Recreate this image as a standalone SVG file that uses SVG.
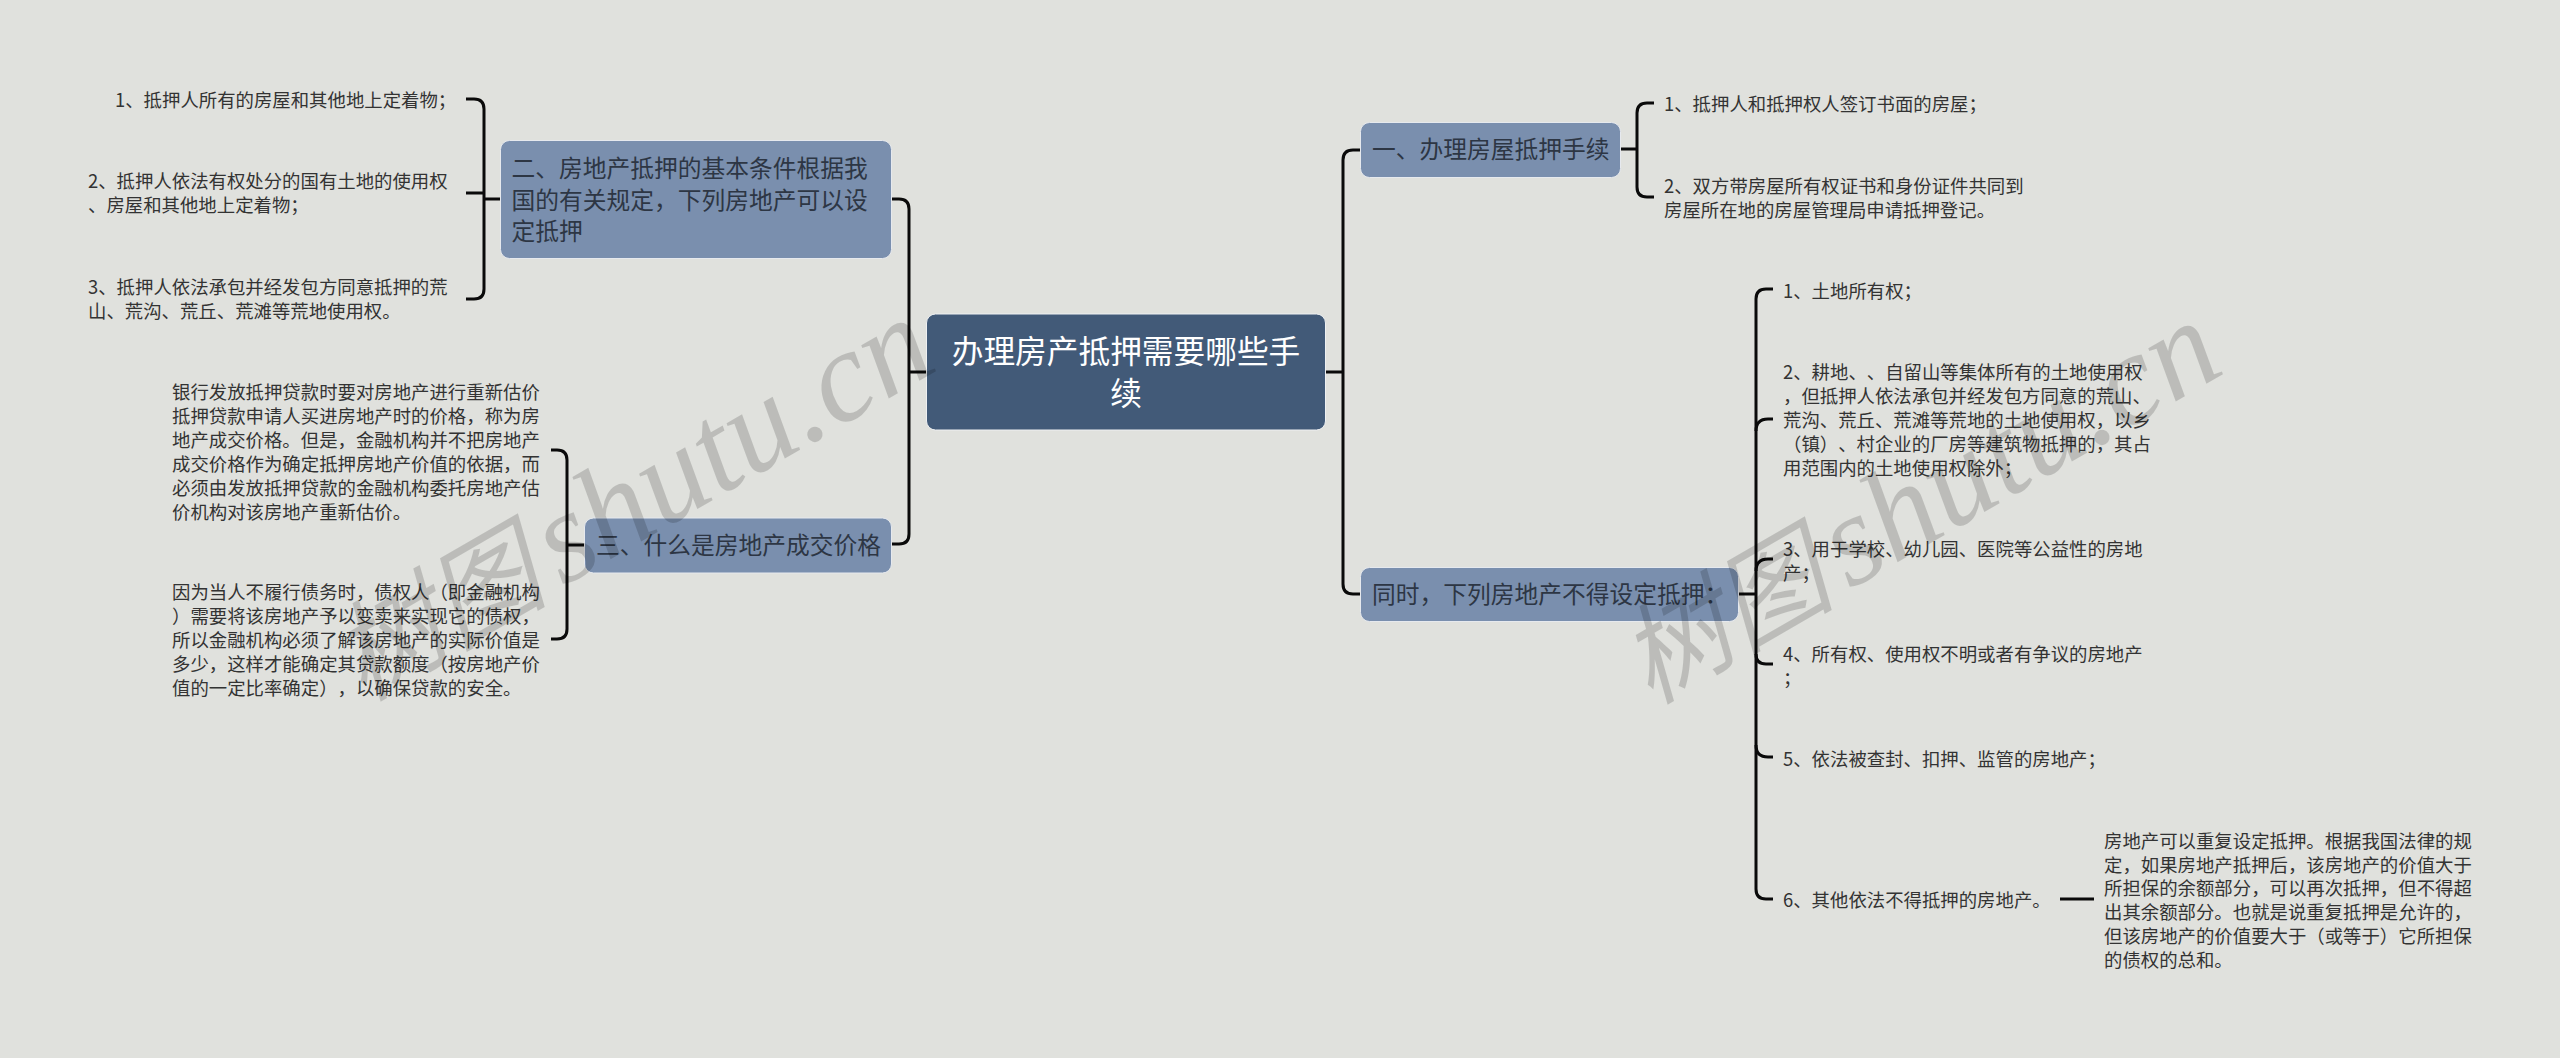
<svg xmlns="http://www.w3.org/2000/svg" width="2560" height="1058" viewBox="0 0 2560 1058">
<style>
text{font-family:"Noto Sans CJK SC","Liberation Sans",sans-serif;text-spacing-trim:space-all;}
.wm{font-family:"Liberation Serif","Noto Sans CJK SC",serif;font-style:italic;font-size:108px;fill:#000;fill-opacity:.16;}
.wm .la{font-size:130px;}
.bg{fill:#e0e1dd;}
.root rect{fill:#425a78;stroke:#eef0f2;stroke-width:1;}
.root text{fill:#fff;font-size:31.7px;text-anchor:middle;}
.n1 rect{fill:#7a8fae;stroke:#e6e9ee;stroke-width:1;}
.n1 text{fill:#2d3644;font-size:23.75px;}
.leaf text{fill:#333;font-size:18.4px;}
.c{fill:none;stroke:#0a0a0a;stroke-width:3;}
</style>
<rect class="bg" width="2560" height="1058"/>
<g id="connectors">
<path class="c" d="M926,372H908M891,199H899Q909,199 909,209V534Q909,544 899,544H891"/>
<path class="c" d="M1325,372H1343M1360,150H1353Q1343,150 1343,160V584Q1343,594 1353,594H1360"/>
<path class="c" d="M1620,149H1637M1654,103H1647Q1637,103 1637,113V187Q1637,197 1647,197H1654"/>
<path class="c" d="M500,199H484M466,99H474Q484,99 484,109V289Q484,299 474,299H466M466,193H484"/>
<path class="c" d="M584,545H567M551,450H557Q567,450 567,460V629Q567,639 557,639H551"/>
<path class="c" d="M1739,594H1756M1773,289H1766Q1756,289 1756,299V889Q1756,899 1766,899H1773"/>
<path class="c" d="M1773,419H1768Q1756,419 1756,431M1773,559H1768Q1756,559 1756,571M1773,664H1766Q1756,664 1756,654M1773,757H1768Q1756,757 1756,745"/>
<path class="c" d="M2060,899H2094"/>
</g>
<g id="root" class="root">
<rect x="926.5" y="314" width="399" height="116" rx="9"/>
<text x="1126" y="363">办理房产抵押需要哪些手</text>
<text x="1126" y="405">续</text>
</g>
<g id="n-1" class="n1">
<rect x="1360.5" y="122.5" width="260" height="55" rx="9"/>
<text x="1372" y="158">一、办理房屋抵押手续</text>
</g>
<g id="n-1-1" class="leaf"><text x="1664" y="110.5">1、抵押人和抵押权人签订书面的房屋；</text></g>
<g id="n-1-2" class="leaf">
<text x="1664" y="192.5">2、双方带房屋所有权证书和身份证件共同到</text>
<text x="1664" y="216.5">房屋所在地的房屋管理局申请抵押登记。</text>
</g>
<g id="n-2" class="n1">
<rect x="1360.5" y="567.5" width="378" height="54" rx="9"/>
<text x="1372" y="603">同时，下列房地产不得设定抵押：</text>
</g>
<g id="n-2-1" class="leaf"><text x="1783" y="297.5">1、土地所有权；</text></g>
<g id="n-2-2" class="leaf">
<text x="1783" y="379">2、耕地、、自留山等集体所有的土地使用权</text>
<text x="1783" y="403">，但抵押人依法承包并经发包方同意的荒山、</text>
<text x="1783" y="427">荒沟、荒丘、荒滩等荒地的土地使用权，以乡</text>
<text x="1783" y="451">（镇）、村企业的厂房等建筑物抵押的，其占</text>
<text x="1783" y="475">用范围内的土地使用权除外；</text>
</g>
<g id="n-2-3" class="leaf">
<text x="1783" y="556">3、用于学校、幼儿园、医院等公益性的房地</text>
<text x="1783" y="580">产；</text>
</g>
<g id="n-2-4" class="leaf">
<text x="1783" y="661">4、所有权、使用权不明或者有争议的房地产</text>
<text x="1783" y="685">；</text>
</g>
<g id="n-2-5" class="leaf"><text x="1783" y="765.5">5、依法被查封、扣押、监管的房地产；</text></g>
<g id="n-2-6" class="leaf"><text x="1783" y="906.5">6、其他依法不得抵押的房地产。</text></g>
<g id="n-2-6-1" class="leaf">
<text x="2104" y="847.5">房地产可以重复设定抵押。根据我国法律的规</text>
<text x="2104" y="871.5">定，如果房地产抵押后，该房地产的价值大于</text>
<text x="2104" y="895">所担保的余额部分，可以再次抵押，但不得超</text>
<text x="2104" y="919">出其余额部分。也就是说重复抵押是允许的，</text>
<text x="2104" y="942.5">但该房地产的价值要大于（或等于）它所担保</text>
<text x="2104" y="966.5">的债权的总和。</text>
</g>
<g id="n-3" class="n1">
<rect x="500.5" y="140.5" width="391" height="118" rx="9"/>
<text x="511.5" y="176.5">二、房地产抵押的基本条件根据我</text>
<text x="511.5" y="208.5">国的有关规定，下列房地产可以设</text>
<text x="511.5" y="240">定抵押</text>
</g>
<g id="n-3-1" class="leaf"><text x="115" y="107">1、抵押人所有的房屋和其他地上定着物；</text></g>
<g id="n-3-2" class="leaf">
<text x="88" y="188">2、抵押人依法有权处分的国有土地的使用权</text>
<text x="88" y="212">、房屋和其他地上定着物；</text>
</g>
<g id="n-3-3" class="leaf">
<text x="88" y="294">3、抵押人依法承包并经发包方同意抵押的荒</text>
<text x="88" y="318">山、荒沟、荒丘、荒滩等荒地使用权。</text>
</g>
<g id="n-4" class="n1">
<rect x="584.5" y="518" width="307" height="55" rx="9"/>
<text x="596" y="554">三、什么是房地产成交价格</text>
</g>
<g id="n-4-1" class="leaf">
<text x="172" y="399">银行发放抵押贷款时要对房地产进行重新估价</text>
<text x="172" y="423">抵押贷款申请人买进房地产时的价格，称为房</text>
<text x="172" y="447">地产成交价格。但是，金融机构并不把房地产</text>
<text x="172" y="471">成交价格作为确定抵押房地产价值的依据，而</text>
<text x="172" y="495">必须由发放抵押贷款的金融机构委托房地产估</text>
<text x="172" y="518.5">价机构对该房地产重新估价。</text>
</g>
<g id="n-4-2" class="leaf">
<text x="172" y="599">因为当人不履行债务时，债权人（即金融机构</text>
<text x="172" y="623">）需要将该房地产予以变卖来实现它的债权，</text>
<text x="172" y="647">所以金融机构必须了解该房地产的实际价值是</text>
<text x="172" y="671">多少，这样才能确定其贷款额度（按房地产价</text>
<text x="172" y="694.5">值的一定比率确定），以确保贷款的安全。</text>
</g>
<g id="watermarks">
<text class="wm" transform="translate(363,702) rotate(-30)">树图<tspan class="la" dx="-18"> shutu.cn</tspan></text>
<text class="wm" transform="translate(1650,705) rotate(-30)">树图<tspan class="la" dx="-18"> shutu.cn</tspan></text>
</g>
</svg>
